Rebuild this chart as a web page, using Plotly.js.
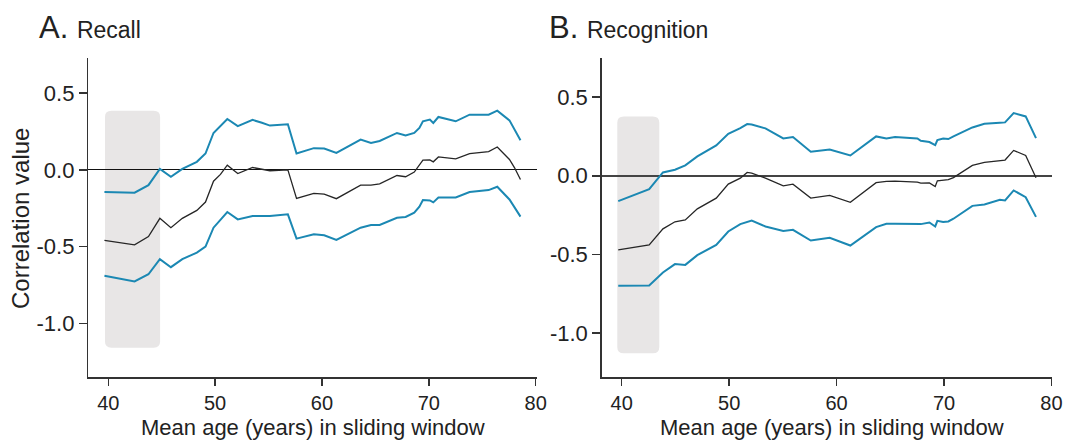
<!DOCTYPE html>
<html>
<head>
<meta charset="utf-8">
<script src="https://cdn.plot.ly/plotly-3.0.1.min.js"></script>
<style>html,body{margin:0;padding:0;background:#fff;}#chart{width:1075px;height:442px;}</style>
</head>
<body>
<div id="chart"></div>
<script>
// ---- Panel A: Recall ----
const ageA = [39.64, 42.46, 43.76, 44.83, 45.86, 46.93, 48.29, 49.10, 49.85, 50.5, 51.14, 52.12, 53.51, 54.38, 55.13, 56.81, 57.62, 59.24, 60.21, 61.35, 63.62, 64.59, 65.40, 67.02, 67.83, 68.64, 69.12, 69.45, 70.1, 70.42, 70.9, 72.52, 73.82, 75.6, 76.41, 77.55, 78.03, 78.58];
const upperA = [-0.145, -0.149, -0.10, 0.006, -0.045, 0.006, 0.052, 0.106, 0.24, 0.285, 0.331, 0.284, 0.325, 0.306, 0.288, 0.297, 0.106, 0.141, 0.139, 0.11, 0.197, 0.175, 0.188, 0.24, 0.223, 0.24, 0.273, 0.316, 0.327, 0.305, 0.344, 0.316, 0.359, 0.359, 0.385, 0.322, 0.262, 0.193];
const corrA = [-0.459, -0.489, -0.435, -0.316, -0.377, -0.316, -0.264, -0.21, -0.074, -0.03, 0.03, -0.024, 0.015, 0.004, -0.006, 0.0, -0.186, -0.154, -0.158, -0.188, -0.10, -0.10, -0.091, -0.037, -0.045, -0.015, 0.035, 0.063, 0.065, 0.052, 0.084, 0.071, 0.106, 0.119, 0.149, 0.067, 0.013, -0.063];
const lowerA = [-0.69, -0.727, -0.68, -0.582, -0.634, -0.582, -0.539, -0.5, -0.377, -0.325, -0.275, -0.323, -0.301, -0.301, -0.301, -0.29, -0.448, -0.42, -0.426, -0.457, -0.377, -0.359, -0.359, -0.312, -0.307, -0.279, -0.24, -0.197, -0.199, -0.212, -0.18, -0.18, -0.145, -0.132, -0.11, -0.193, -0.245, -0.305];

// ---- Panel B: Recognition ----
const ageB = [39.68, 42.56, 43.84, 44.96, 45.92, 47.04, 48.8, 49.92, 51.04, 51.68, 52.1, 53.38, 55.04, 55.94, 57.6, 59.36, 61.28, 63.68, 64.64, 65.44, 67.52, 67.84, 68.64, 69.18, 69.38, 69.92, 70.4, 70.88, 72.64, 73.76, 75.2, 75.68, 76.48, 77.6, 78.56];
const upperB = [-0.161, -0.085, 0.021, 0.038, 0.066, 0.123, 0.193, 0.267, 0.303, 0.328, 0.325, 0.301, 0.237, 0.246, 0.153, 0.167, 0.129, 0.25, 0.237, 0.246, 0.237, 0.222, 0.214, 0.195, 0.227, 0.237, 0.233, 0.25, 0.307, 0.33, 0.337, 0.339, 0.398, 0.377, 0.239];
const corrB = [-0.47, -0.439, -0.337, -0.292, -0.28, -0.21, -0.142, -0.053, -0.015, 0.021, 0.017, -0.015, -0.064, -0.053, -0.142, -0.125, -0.169, -0.044, -0.036, -0.034, -0.04, -0.047, -0.045, -0.068, -0.032, -0.03, -0.025, -0.012, 0.066, 0.085, 0.097, 0.1, 0.161, 0.129, -0.013];
const lowerB = [-0.699, -0.697, -0.614, -0.561, -0.566, -0.504, -0.439, -0.354, -0.307, -0.29, -0.284, -0.322, -0.35, -0.343, -0.411, -0.394, -0.443, -0.326, -0.305, -0.305, -0.307, -0.307, -0.297, -0.322, -0.286, -0.294, -0.29, -0.273, -0.191, -0.182, -0.153, -0.157, -0.093, -0.136, -0.261];

// ---- ticks and labels ----
const xTicks = [40, 50, 60, 70, 80];
const yTicks = [-1.0, -0.5, 0.0, 0.5];
const yTickText = ['-1.0', '-0.5', '0.0', '0.5'];
const panelLetters = ['A.', 'B.'];
const panelNames = ['Recall', 'Recognition'];
const xTitle = 'Mean age (years) in sliding window';
const yTitle = 'Correlation value';

// highlighted window (grey band) per panel: [x0, x1, y0, y1]
const bandA = [39.69, 44.85, -1.158, 0.384];
const bandB = [39.59, 43.5, -1.127, 0.377];

const FONT = 'Liberation Sans, Arial, Helvetica, sans-serif';
const BLUE = '#1b88b3';
const DARK = '#262626';
const GREY = '#e8e6e6';

function roundRect(b, rx, ry) {
  const [x0, x1, y0, y1] = b;
  return `M ${x0 + rx},${y0} L ${x1 - rx},${y0} Q ${x1},${y0} ${x1},${y0 + ry} ` +
         `L ${x1},${y1 - ry} Q ${x1},${y1} ${x1 - rx},${y1} L ${x0 + rx},${y1} ` +
         `Q ${x0},${y1} ${x0},${y1 - ry} L ${x0},${y0 + ry} Q ${x0},${y0} ${x0 + rx},${y0} Z`;
}

function line(x, y, color, width, xa, ya) {
  return {x: x, y: y, type: 'scatter', mode: 'lines', xaxis: xa, yaxis: ya,
          line: {color: color, width: width}, hoverinfo: 'skip', showlegend: false};
}

const traces = [
  line(ageA, upperA, BLUE, 2, 'x', 'y'),
  line(ageA, lowerA, BLUE, 2, 'x', 'y'),
  line(ageA, corrA, DARK, 1.3, 'x', 'y'),
  line(ageB, upperB, BLUE, 2, 'x2', 'y2'),
  line(ageB, lowerB, BLUE, 2, 'x2', 'y2'),
  line(ageB, corrB, DARK, 1.3, 'x2', 'y2')
];

const axisX = (domain, anchor, range) => ({
  domain: domain, anchor: anchor, range: range,
  tickmode: 'array', tickvals: xTicks, ticks: 'outside', ticklen: 7, tickwidth: 1.5, tickcolor: '#333',
  showline: true, linecolor: '#333', linewidth: 1.5, showgrid: false, zeroline: false,
  tickfont: {family: FONT, size: 20, color: '#222'}, fixedrange: true
});
const axisY = (domain, anchor, range, zc, zw) => ({
  domain: domain, anchor: anchor, range: range,
  tickmode: 'array', tickvals: yTicks, ticktext: yTickText, ticks: 'outside', ticklen: 8, tickwidth: 1.5, tickcolor: '#333',
  showline: true, linecolor: '#333', linewidth: 1.5, showgrid: false,
  zeroline: true, zerolinecolor: zc, zerolinewidth: zw,
  tickfont: {family: FONT, size: 22, color: '#222'}, fixedrange: true
});

const W = 1075, TOP = 58, BOT = 377;
const px = v => v / W;
const py = v => (BOT - v) / (BOT - TOP);

const layout = {
  width: 1075, height: 442,
  margin: {l: 0, r: 0, t: TOP, b: 442 - BOT},
  paper_bgcolor: '#fff', plot_bgcolor: '#fff',
  showlegend: false,
  font: {family: FONT, color: '#222'},
  xaxis: axisX([px(88.3), px(536.7)], 'y', [38.13, 80.1]),
  yaxis: axisY([0, 1], 'x', [-1.349, 0.728], '#111', 1.2),
  xaxis2: axisX([px(601.7), px(1052)], 'y2', [38.14, 80.05]),
  yaxis2: axisY([0, 1], 'x2', [-1.278, 0.748], '#444', 1.6),
  shapes: [
    {type: 'path', xref: 'x', yref: 'y', path: roundRect(bandA, 0.6, 0.04), fillcolor: GREY, line: {width: 0}, layer: 'below'},
    {type: 'path', xref: 'x2', yref: 'y2', path: roundRect(bandB, 0.6, 0.04), fillcolor: GREY, line: {width: 0}, layer: 'below'}
  ],
  annotations: [
    {xref: 'paper', yref: 'paper', x: px(37), y: py(27), xanchor: 'left', yanchor: 'middle', showarrow: false,
     text: panelLetters[0] + ' <span style="font-size:23px">' + panelNames[0] + '</span>', font: {family: FONT, size: 31, color: '#222'}},
    {xref: 'paper', yref: 'paper', x: px(547), y: py(27), xanchor: 'left', yanchor: 'middle', showarrow: false,
     text: panelLetters[1] + ' <span style="font-size:23px">' + panelNames[1] + '</span>', font: {family: FONT, size: 31, color: '#222'}},
    {xref: 'paper', yref: 'paper', x: px(20), y: py(219), xanchor: 'center', yanchor: 'middle', showarrow: false, textangle: -90,
     text: yTitle, font: {family: FONT, size: 24, color: '#222'}},
    {xref: 'paper', yref: 'paper', x: px(313), y: py(442), xanchor: 'center', yanchor: 'bottom', showarrow: false,
     text: xTitle, font: {family: FONT, size: 22, color: '#222'}},
    {xref: 'paper', yref: 'paper', x: px(832), y: py(442), xanchor: 'center', yanchor: 'bottom', showarrow: false,
     text: xTitle, font: {family: FONT, size: 22, color: '#222'}}
  ]
};

Plotly.newPlot('chart', traces, layout, {displayModeBar: false, staticPlot: true});
</script>
</body>
</html>
